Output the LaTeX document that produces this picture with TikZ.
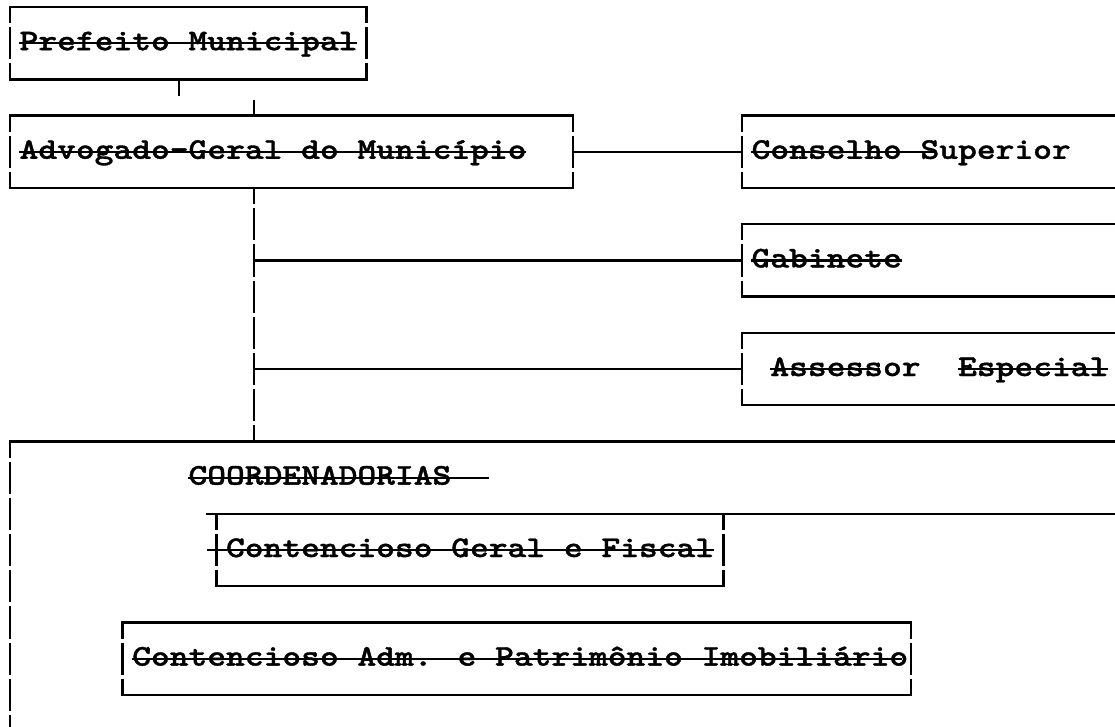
\documentclass[tikz,border=0pt]{standalone}
\usepackage{fontspec}
\newfontfamily\courfont{lmmonolt10-bold.otf}[FakeStretch=1.192, FakeBold=1.2]
\tikzset{
  ln/.style={line width=2.4pt, line cap=rect},
  vln/.style={line width=2.4pt, dash pattern=on 32.2pt off 4pt, dash phase=16.1pt},
  tick/.style={line width=2.4pt},
  strike/.style={line width=2.2pt},
  lbl/.style={inner sep=0pt, anchor=base west, font=\fontsize{30pt}{36pt}\selectfont\courfont},
}
\begin{document}
\begin{tikzpicture}[x=1pt,y=-1pt]
\useasboundingbox (0,0) rectangle (1115,726);
% ---- coordinates of box corners
\coordinate (pTL) at (10,7);      \coordinate (pTR) at (366.6,7);
\coordinate (pBL) at (10,79.4);   \coordinate (pBR) at (366.6,79.4);
\coordinate (aTL) at (10,115.6);  \coordinate (aTR) at (573.1,115.6);
\coordinate (aBL) at (10,188);    \coordinate (aBR) at (573.1,188);
\coordinate (cTL) at (742,115.6); \coordinate (cTE) at (1115,115.6);
\coordinate (cBL) at (742,188);   \coordinate (cBE) at (1115,188);
\coordinate (gTL) at (742,224.2); \coordinate (gTE) at (1115,224.2);
\coordinate (gBL) at (742,296.6); \coordinate (gBE) at (1115,296.6);
\coordinate (sTL) at (742,332.8); \coordinate (sTE) at (1115,332.8);
\coordinate (sBL) at (742,405.2); \coordinate (sBE) at (1115,405.2);
\coordinate (kTL) at (10,441.4);  \coordinate (kTE) at (1115,441.4);
\coordinate (kBL) at (10,730);
\coordinate (fT0) at (207.1,513.8); \coordinate (fTE) at (1115,513.8);
\coordinate (fTL) at (216.5,513.8); \coordinate (fTR) at (723.3,513.8);
\coordinate (fBL) at (216.5,586.2); \coordinate (fBR) at (723.3,586.2);
\coordinate (iTL) at (122.6,622.4); \coordinate (iTR) at (911,622.4);
\coordinate (iBL) at (122.6,694.8); \coordinate (iBR) at (911,694.8);
% connector points
\coordinate (t1a) at (178.9,79.4);  \coordinate (t1b) at (178.9,95.5);
\coordinate (t2a) at (254,99.7);    \coordinate (t2b) at (254,115.6);
\coordinate (vA) at (254,188);      \coordinate (vK) at (254,441.4);
\coordinate (aR) at (573.1,151.8);  \coordinate (cL) at (742,151.8);
\coordinate (j1) at (254,260.4);    \coordinate (gL) at (742,260.4);
\coordinate (j2) at (254,369);      \coordinate (sL) at (742,369);

% ---- texts
\node[lbl] (tpref) at (19.4,50.2) {Prefeito Municipal};
\node[lbl] (tadv)  at (19.4,158.8) {Advogado-Geral do Município};
\node[lbl] (tcons) at (751.4,158.8) {Conselho Superior};
\node[lbl] (tgab)  at (751.4,267.4) {Gabinete};
\node[lbl] (tass)  at (770.2,376) {Assessor\ \ Especial};
\node[lbl] (tcoord) at (188.3,484.6) {COORDENADORIAS};
\node[lbl] (tgeral) at (225.8,557) {Contencioso Geral e Fiscal};
\node[lbl] (tadm)  at (132,665.6) {Contencioso Adm. e Patrimônio Imobiliário};

% ---- strike-through lines
\draw[strike] (19.4,43.2) -- (357.2,43.2);
\draw[strike] (19.4,151.8) -- (526.2,151.8);
\draw[strike] (751.4,151.8) -- (935,151.8);
\draw[strike] (751.4,260.4) -- (901.6,260.4);
\draw[strike] (770.2,369) -- (880,369);
\draw[strike] (957.9,369) -- (1108,369);
\draw[strike] (188.3,477.6) -- (488.6,477.6);
\draw[strike] (207.1,550) -- (713.8,550);
\draw[strike] (132,658.6) -- (901.6,658.6);

% ---- boxes
% Prefeito
\draw[ln] (pTL) -- (pTR); \draw[ln] (pBL) -- (pBR);
\draw[vln] (pTL) -- (pBL); \draw[vln] (pTR) -- (pBR);
% Advogado
\draw[ln] (aTL) -- (aTR); \draw[ln] (aBL) -- (aBR);
\draw[vln] (aTL) -- (aBL); \draw[vln] (aTR) -- (aBR);
% Conselho
\draw[ln] (cTL) -- (cTE); \draw[ln] (cBL) -- (cBE);
\draw[vln] (cTL) -- (cBL);
% Gabinete
\draw[ln] (gTL) -- (gTE); \draw[ln] (gBL) -- (gBE);
\draw[vln] (gTL) -- (gBL);
% Assessor
\draw[ln] (sTL) -- (sTE); \draw[ln] (sBL) -- (sBE);
\draw[vln] (sTL) -- (sBL);
% Coordenadorias
\draw[ln] (kTL) -- (kTE);
\draw[vln] (kTL) -- (kBL);
% Contencioso Geral
\draw[ln] (fT0) -- (fTE); \draw[ln] (fBL) -- (fBR);
\draw[vln] (fTL) -- (fBL); \draw[vln] (fTR) -- (fBR);
% Contencioso Adm
\draw[ln] (iTL) -- (iTR); \draw[ln] (iBL) -- (iBR);
\draw[vln] (iTL) -- (iBL); \draw[vln] (iTR) -- (iBR);

% ---- connectors
\draw[tick] (t1a) -- (t1b);
\draw[tick] (t2a) -- (t2b);
\draw[vln] (vA) -- (vK);
\draw[ln] (aR) -- (cL);
\draw[ln] (j1) -- (gL);
\draw[ln] (j2) -- (sL);
\end{tikzpicture}
\end{document}
